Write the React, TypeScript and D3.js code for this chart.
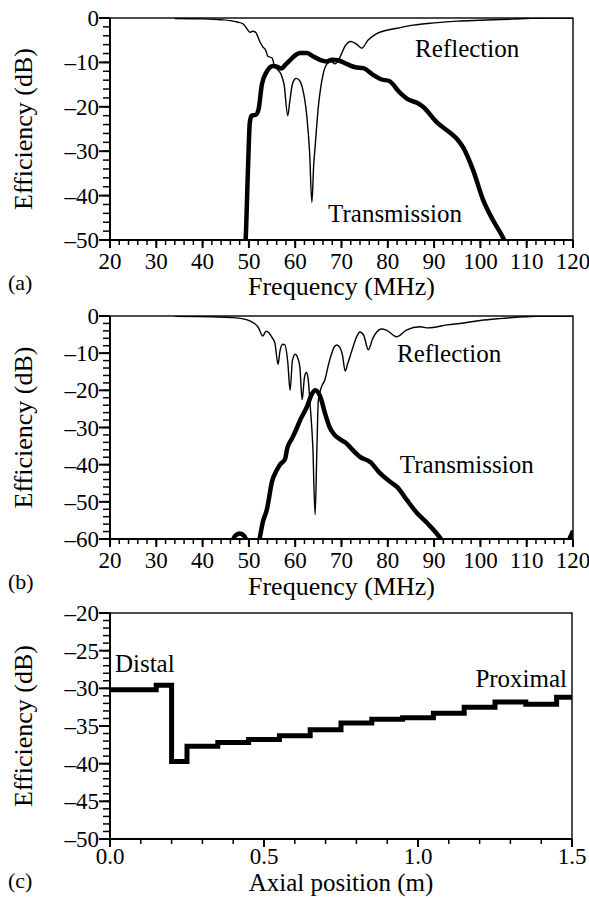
import React from "react";
import * as d3 from "d3";

const FONT = "'Liberation Serif', 'Times New Roman', serif";
const W = 589;
const H = 898;
const LEFT = 110;
const RIGHT = 573;

// tick labels
const freqTicks = [20, 30, 40, 50, 60, 70, 80, 90, 100, 110, 120];
const dbTicksA = [0, -10, -20, -30, -40, -50];
const dbTicksB = [0, -10, -20, -30, -40, -50, -60];
const posTicks = [0, 0.5, 1.0, 1.5];
const dbTicksC = [-20, -25, -30, -35, -40, -45, -50];

// (a) reflection / transmission, [MHz, dB]
const reflA: [number, number][] = [
  [34, -0.1], [40, -0.2], [44, -0.4], [46, -0.6], [47.5, -0.9], [48.7, -1.3], [49.5, -2.3],
  [50.2, -3.2], [50.8, -3.0], [51.4, -3.2], [52.4, -5.4], [53, -6.5], [53.6, -7.2], [54.1, -8.6],
  [55, -9.0], [55.6, -11.0], [56.2, -11.6], [57, -12.8], [57.6, -15], [58.4, -22.0], [58.8, -19],
  [59.5, -14.5], [60.2, -13.6], [60.8, -13.9], [61.5, -15.5], [62.5, -22], [63.1, -30], [63.6, -41.5],
  [64, -33], [64.3, -29], [65, -20], [66, -12.8], [67, -10.2], [67.8, -9.8], [68.6, -10.3],
  [69.3, -9.6], [70.1, -7.8], [70.8, -6.3], [72, -5.3], [73, -5.7], [74.4, -6.8], [75.7, -5.0],
  [77.6, -3.5], [80, -2.7], [82, -2.3], [85.5, -1.6], [90, -1.1], [95, -0.7], [100, -0.5],
  [107, -0.25], [111, -0.05], [120, 0],
];
const transA: [number, number][] = [
  [48.8, -56], [49.3, -50], [49.8, -34], [50.2, -23.5], [50.6, -22], [51.5, -21.8], [52.1, -20.5],
  [52.8, -15], [53.9, -12], [55.2, -10.8], [56.2, -11.0], [57, -11.4], [57.8, -10.6], [58.9, -9.5],
  [60, -8.4], [61, -7.9], [62.5, -7.9], [63.8, -8.6], [65.5, -9.5], [66.8, -9.8], [68, -9.4],
  [69.2, -9.5], [71.2, -10.4], [73, -11.1], [74.7, -11.3], [76.8, -12.8], [78.5, -13.8], [80.3, -14.2],
  [82.6, -16.8], [84.5, -18.4], [86.5, -19.2], [87.6, -20], [90.6, -23.5], [93.4, -25.8], [95, -27.3],
  [96.3, -29.2], [98.4, -34.2], [100.6, -41], [102.7, -45.5], [104.9, -49.5], [106, -52],
];

// (b)
const reflB: [number, number][] = [
  [34, -0.1], [42, -0.2], [46, -0.4], [48.5, -0.7], [50.2, -1.3], [51.2, -2], [52, -3], [53, -5.4],
  [53.7, -4.1], [54.3, -4.5], [55, -5.8], [55.6, -7.2], [56.3, -13], [56.7, -9.5], [57.3, -7.6],
  [57.8, -7.8], [58.4, -12.5], [58.9, -20], [59.4, -12], [60, -10.3], [60.6, -11.5], [61, -13.6],
  [61.5, -22.5], [62, -16.5], [62.4, -15.2], [62.8, -17], [63.2, -23.5], [63.8, -35], [64.3, -53.5],
  [64.7, -35], [65, -22.6], [65.7, -19], [66.4, -17.2], [67.2, -13], [67.9, -10], [68.5, -8.2],
  [69, -7.8], [69.6, -8.4], [70.2, -10.5], [70.8, -14.8], [71.3, -13], [72.3, -9.1], [73.2, -5.8],
  [74, -4.3], [74.8, -5.2], [75.8, -9.1], [76.7, -6.2], [77.6, -4.3], [78.6, -3.5], [79.7, -3.8],
  [81.9, -5.6], [84, -3.8], [87, -2.9], [88.7, -3.2], [92.8, -2.4], [96.3, -1.9], [100, -1.2],
  [104, -0.7], [107, -0.4], [112, -0.1], [120, 0],
];
const transB: [number, number][] = [
  [46, -62], [47, -59.2], [48, -58.5], [49, -59.2], [50, -62], [51.5, -65], [52.3, -60], [53, -55.5],
  [53.9, -52], [55, -44.5], [56, -41.5], [56.7, -40], [57.8, -38.5], [58.3, -35.5], [59.3, -33],
  [60.4, -30], [61, -28.2], [62.5, -24.5], [63.6, -21], [64.3, -20], [65, -20.6], [65.5, -22],
  [66.4, -26], [67.4, -29.8], [68.5, -32], [69.7, -33.2], [71, -34.2], [72, -35.5], [74, -37.9],
  [76.2, -39.3], [78.3, -42.3], [80.5, -44.6], [82, -46], [84.1, -49.5], [86.3, -53], [88.5, -55.7],
  [91.3, -59.7], [92.5, -62], [110, -75], [118.5, -62], [120, -57.8],
];

// (c) step profile along the axis
const stepPos = [0, 0.15, 0.2, 0.25, 0.35, 0.45, 0.55, 0.65, 0.75, 0.85, 0.95, 1.05, 1.15, 1.25, 1.35, 1.45, 1.5];
const stepDb = [-30.2, -29.6, -39.7, -37.7, -37.2, -36.8, -36.3, -35.5, -34.6, -34.1, -33.9, -33.3, -32.5, -31.8, -32.1, -31.2, -31.2];

type Series = { data: [number, number][]; width: number; step?: boolean };
type Label = { text: string; x: number; y: number; anchor?: string };

type PanelProps = {
  id: string;
  top: number;
  bottom: number;
  right: number;
  xDomain: [number, number];
  yDomain: [number, number];
  xTicks: number[];
  xMinor: number;
  yTicks: number[];
  yMinor: number;
  xFmt: (v: number) => string;
  xTitle: string;
  titleSize: number;
  tag: string;
  tagY: number;
  titleY: number;
  tickDy: number;
  series: Series[];
  labels: Label[];
};

// negative numbers drawn with an en dash, like the original figure
const fmtY = (v: number) => (v < 0 ? "\u2013" + Math.abs(v) : String(v));

const Panel = (p: PanelProps) => {
  const x = d3.scaleLinear().domain(p.xDomain).range([LEFT, p.right]);
  const y = d3.scaleLinear().domain(p.yDomain).range([p.bottom, p.top]);
  const xMinor = d3.range(p.xDomain[0], p.xDomain[1] + 1e-9, p.xMinor);
  const yMinor = d3.range(p.yDomain[0], p.yDomain[1] + 1e-9, p.yMinor);
  const clipId = `clip-${p.id}`;
  const mid = (p.top + p.bottom) / 2;

  return (
    <g>
      <defs>
        <clipPath id={clipId}>
          <rect x={LEFT} y={p.top} width={p.right - LEFT} height={p.bottom - p.top} />
        </clipPath>
      </defs>
      <g clipPath={`url(#${clipId})`}>
        {p.series.map((s, i) => {
          const line = d3
            .line<[number, number]>()
            .x((d) => x(d[0]))
            .y((d) => y(d[1]))
            .curve(s.step ? d3.curveStepAfter : d3.curveMonotoneX);
          return (
            <path key={i} d={line(s.data) || ""} fill="none" stroke="#000"
              strokeWidth={s.width} strokeLinejoin={s.step ? "miter" : "round"} />
          );
        })}
      </g>
      <rect x={LEFT} y={p.top} width={p.right - LEFT} height={p.bottom - p.top}
        fill="none" stroke="#000" strokeWidth={1.4} />
      <line x1={LEFT} x2={LEFT} y1={p.top} y2={p.bottom} stroke="#000" strokeWidth={2} />
      <line x1={LEFT} x2={p.right} y1={p.bottom} y2={p.bottom} stroke="#000" strokeWidth={2} />
      {xMinor.map((v) => (
        <line key={`xm${v}`} x1={x(v)} x2={x(v)} y1={p.bottom} y2={p.bottom + 5} stroke="#000" strokeWidth={1.5} />
      ))}
      {p.xTicks.map((v) => (
        <g key={`x${v}`}>
          <line x1={x(v)} x2={x(v)} y1={p.bottom} y2={p.bottom + 8} stroke="#000" strokeWidth={2} />
          <text x={x(v)} y={p.bottom + p.tickDy} textAnchor="middle" fontSize={23}>{p.xFmt(v)}</text>
        </g>
      ))}
      {yMinor.map((v) => (
        <line key={`ym${v}`} x1={LEFT - 7} x2={LEFT} y1={y(v)} y2={y(v)} stroke="#000" strokeWidth={1.5} />
      ))}
      {p.yTicks.map((v) => (
        <g key={`y${v}`}>
          <line x1={LEFT - 11} x2={LEFT} y1={y(v)} y2={y(v)} stroke="#000" strokeWidth={2} />
          <text x={LEFT - 11} y={y(v) + 8} textAnchor="end" fontSize={23}>{fmtY(v)}</text>
        </g>
      ))}
      <text transform={`translate(32,${mid}) rotate(-90)`} textAnchor="middle" fontSize={26}>
        Efficiency (dB)
      </text>
      <text x={(LEFT + p.right) / 2} y={p.titleY} textAnchor="middle" fontSize={p.titleSize}>{p.xTitle}</text>
      <text x={8} y={p.tagY} fontSize={22}>{p.tag}</text>
      {p.labels.map((l) => (
        <text key={l.text} x={x(l.x)} y={y(l.y)} textAnchor={l.anchor || "start"} fontSize={25}>{l.text}</text>
      ))}
    </g>
  );
};

const fmtInt = (v: number) => String(v);
const fmt1 = (v: number) => v.toFixed(1);

export default function App() {
  const stepData: [number, number][] = stepPos.map((v, i) => [v, stepDb[i]]);
  return (
    <svg width={W} height={H} style={{ position: "absolute", left: 0, top: 0, background: "#fff" }}
      fontFamily={FONT} fill="#000">
      <Panel id="a" top={18} bottom={240} right={RIGHT} xDomain={[20, 120]} yDomain={[-50, 0]}
        xTicks={freqTicks} xMinor={2} yTicks={dbTicksA} yMinor={2} xFmt={fmtInt}
        xTitle="Frequency (MHz)" titleSize={26} tag="(a)" tagY={290} titleY={295} tickDy={29}
        series={[{ data: reflA, width: 1.4 }, { data: transA, width: 4.5 }]}
        labels={[{ text: "Reflection", x: 85.9, y: -8.8 }, { text: "Transmission", x: 67.1, y: -45.9 }]} />
      <Panel id="b" top={316} bottom={539} right={RIGHT} xDomain={[20, 120]} yDomain={[-60, 0]}
        xTicks={freqTicks} xMinor={2} yTicks={dbTicksB} yMinor={2} xFmt={fmtInt}
        xTitle="Frequency (MHz)" titleSize={26} tag="(b)" tagY={589} titleY={595} tickDy={29}
        series={[{ data: reflB, width: 1.4 }, { data: transB, width: 4.5 }]}
        labels={[{ text: "Reflection", x: 82, y: -12.4 }, { text: "Transmission", x: 82.6, y: -42.2 }]} />
      <Panel id="c" top={613} bottom={839} right={572} xDomain={[0, 1.5]} yDomain={[-50, -20]}
        xTicks={posTicks} xMinor={0.1} yTicks={dbTicksC} yMinor={1} xFmt={fmt1}
        xTitle="Axial position (m)" titleSize={25} tag="(c)" tagY={888} titleY={891} tickDy={25}
        series={[{ data: stepData, width: 5, step: true }]}
        labels={[{ text: "Distal", x: 0.016, y: -27.8 }, { text: "Proximal", x: 1.484, y: -29.8, anchor: "end" }]} />
    </svg>
  );
}
